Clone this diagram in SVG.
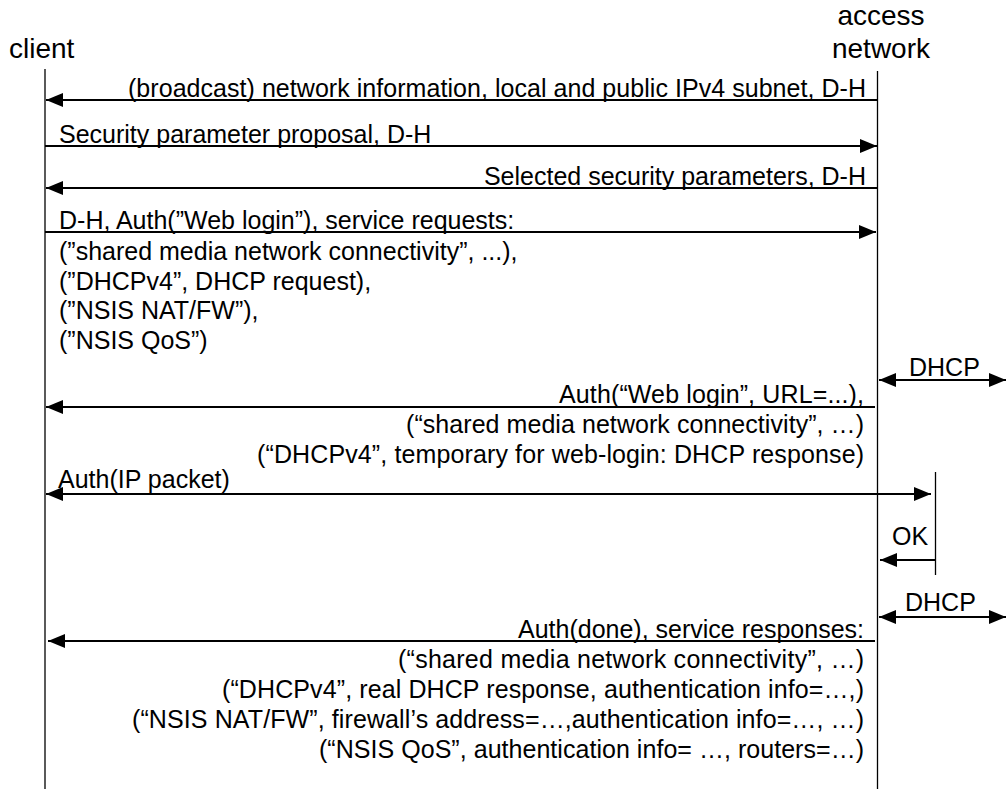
<svg xmlns="http://www.w3.org/2000/svg" width="1007" height="789" viewBox="0 0 1007 789">
<style>
  text { font-family: "Liberation Sans", Arial, sans-serif; fill: #000; }
  .title { font-size: 28px; }
  .lbl { font-size: 25px; }
  .end { text-anchor: end; }
  .mid { text-anchor: middle; }
  .life { stroke: #000; stroke-width: 1.3; fill: none; }
  .msg { stroke: #000; stroke-width: 2; fill: none; }
  .fwd { marker-end: url(#ah); }
  .both { marker-start: url(#ah); marker-end: url(#ah); }
</style>
<defs>
  <marker id="ah" viewBox="0 0 17 14" markerWidth="17" markerHeight="14" refX="17" refY="7" orient="auto-start-reverse" markerUnits="userSpaceOnUse">
    <path d="M0,0 L17,7 L0,14 z" fill="#000"/>
  </marker>
</defs>
<rect width="1007" height="789" fill="#fff"/>

<g id="client">
  <text class="title" x="9" y="58">client</text>
  <line class="life" x1="45" y1="69" x2="45" y2="789"/>
</g>
<g id="access-network">
  <text class="title mid" x="881" y="25">access</text>
  <text class="title mid" x="881" y="58">network</text>
  <line class="life" x1="877.5" y1="71" x2="877.5" y2="789"/>
</g>
<g id="web-login-check">
  <line class="life" x1="935.5" y1="472" x2="935.5" y2="575"/>
</g>

<g id="connectors">
  <g id="m1">
    <line class="msg fwd" x1="877" y1="100" x2="46" y2="100"/>
    <text class="lbl end" x="866" y="97" textLength="738" lengthAdjust="spacing">(broadcast) network information, local and public IPv4 subnet, D-H</text>
  </g>
  <g id="m2">
    <line class="msg fwd" x1="45" y1="146" x2="877" y2="146"/>
    <text class="lbl" x="59" y="143">Security parameter proposal, D-H</text>
  </g>
  <g id="m3">
    <line class="msg fwd" x1="877" y1="188" x2="46" y2="188"/>
    <text class="lbl end" x="866" y="185">Selected security parameters, D-H</text>
  </g>
  <g id="m4">
    <line class="msg fwd" x1="45" y1="232" x2="876" y2="232"/>
    <text class="lbl" x="59" y="229">D-H, Auth(”Web login”), service requests:</text>
    <text class="lbl" x="59" y="260">(”shared media network connectivity”, ...),</text>
    <text class="lbl" x="59" y="290">(”DHCPv4”, DHCP request),</text>
    <text class="lbl" x="59" y="319">(”NSIS NAT/FW”),</text>
    <text class="lbl" x="59" y="349">(”NSIS QoS”)</text>
  </g>
  <g id="dhcp1">
    <line class="msg both" x1="879" y1="380" x2="1006" y2="380"/>
    <text class="lbl" x="909" y="376">DHCP</text>
  </g>
  <g id="m5">
    <line class="msg fwd" x1="875" y1="407" x2="46" y2="407"/>
    <text class="lbl end" x="864" y="403" textLength="305" lengthAdjust="spacing">Auth(“Web login”, URL=...),</text>
    <text class="lbl end" x="864" y="433" textLength="458" lengthAdjust="spacing">(“shared media network connectivity”, …)</text>
    <text class="lbl end" x="864" y="463" textLength="607" lengthAdjust="spacing">(“DHCPv4”, temporary for web-login: DHCP response)</text>
  </g>
  <g id="m6">
    <line class="msg both" x1="46" y1="494" x2="931" y2="494"/>
    <text class="lbl" x="58" y="488">Auth(IP packet)</text>
  </g>
  <g id="ok">
    <line class="msg fwd" x1="935" y1="560" x2="880" y2="560"/>
    <text class="lbl" x="892" y="545">OK</text>
  </g>
  <g id="dhcp2">
    <line class="msg both" x1="879" y1="617" x2="1006" y2="617"/>
    <text class="lbl" x="905" y="611">DHCP</text>
  </g>
  <g id="m7">
    <line class="msg fwd" x1="875" y1="641" x2="48" y2="641"/>
    <text class="lbl end" x="864" y="638">Auth(done), service responses:</text>
    <text class="lbl end" x="864" y="668" textLength="466" lengthAdjust="spacing">(“shared media network connectivity”,  …)</text>
    <text class="lbl end" x="864" y="698" textLength="642" lengthAdjust="spacing">(“DHCPv4”, real DHCP response, authentication info=…,)</text>
    <text class="lbl end" x="864" y="728" textLength="732" lengthAdjust="spacing">(“NSIS NAT/FW”, firewall’s address=…,authentication info=…, …)</text>
    <text class="lbl end" x="864" y="758" textLength="545" lengthAdjust="spacing">(“NSIS QoS”, authentication info= …, routers=…)</text>
  </g>
</g>
</svg>
